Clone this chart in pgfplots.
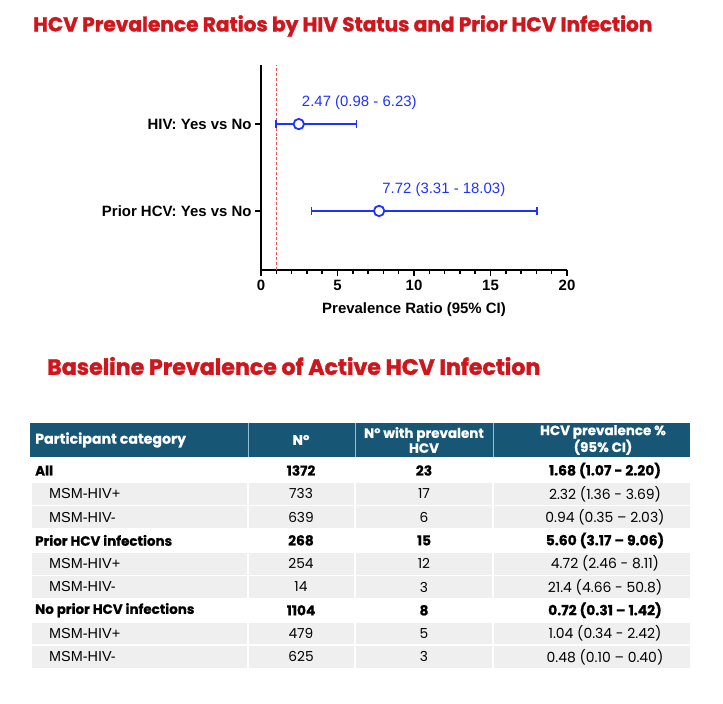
\documentclass[border=0pt]{standalone}
\usepackage{pgfplots}
\pgfplotsset{compat=1.18}
\usepackage{fontspec}
\setmainfont{Liberation Sans}
\newfontfamily\pop{Poppins}
\newfontfamily\popT{Poppins}[FakeBold=1.6]
\newfontfamily\popH{Poppins}[FakeBold=0.7]
\definecolor{titlered}{RGB}{208,22,28}
\definecolor{hdr}{RGB}{24,86,117}
\definecolor{hdrline}{RGB}{150,190,210}
\definecolor{rowgray}{RGB}{239,239,239}
\definecolor{pblue}{RGB}{32,50,255}
\definecolor{refred}{RGB}{240,80,80}
\pgfplotstableread{
x y em ep
2.47 2 1.49 3.76
7.72 1 4.41 10.31
}\prdata
\begin{document}
\begin{tikzpicture}
\useasboundingbox (0,0) rectangle (723bp,-704bp);
\node[anchor=west, inner sep=0, text=titlered, font=\popT\bfseries\fontsize{20.2}{23}\selectfont] at (33bp,-26bp) {HCV Prevalence Ratios by HIV Status and Prior HCV Infection};
\node[anchor=west, inner sep=0, text=titlered, font=\popT\bfseries\fontsize{22.2}{25}\selectfont] at (47bp,-366bp) {Baseline Prevalence of Active HCV Infection};
\begin{axis}[
  at={(261bp,-270bp)}, anchor=south west,
  width=306bp, height=205bp, scale only axis,
  xmin=0, xmax=20, ymin=0.32, ymax=2.68,
  axis x line=bottom, axis y line=left,
  axis line style={line width=2pt, -},
  xtick={0,5,...,20}, minor xtick={1,...,19},
  ytick={1,2}, yticklabels={Prior HCV: Yes vs No, HIV: Yes vs No},
  tick style={black, line width=1.5pt},
  major tick length=6bp, minor tick length=4bp,
  tick align=outside,
  tick label style={font=\bfseries\fontsize{15}{18}\selectfont},
  xticklabel style={yshift=-1bp},
  /pgf/number format/assume math mode=true,
  xlabel={Prevalence Ratio (95\% CI)},
  xlabel style={font=\bfseries\fontsize{15}{18}\selectfont, yshift=-5bp},
  clip=false,
]
\addplot[refred, line width=0.9pt, dash pattern=on 3pt off 2pt] coordinates {(1,0.32) (1,2.68)};
\addplot[pblue, line width=2pt, only marks, mark=*, mark size=5.2bp,
  mark options={fill=white, draw=pblue, line width=1.8pt},
  error bars/.cd, x dir=both, x explicit, error mark=|,
  error bar style={line width=2pt, pblue},
  error mark options={pblue, mark size=4bp, line width=1.5pt}]
  table[x=x, y=y, x error minus=em, x error plus=ep] {\prdata};
\node[anchor=west, inner sep=0, text=pblue, font=\fontsize{15}{18}\selectfont, xshift=3bp, yshift=21bp] at (axis cs:2.47,2) {2.47 (0.98 - 6.23)};
\node[anchor=west, inner sep=0, text=pblue, font=\fontsize{15}{18}\selectfont, xshift=3bp, yshift=21bp] at (axis cs:7.72,1) {7.72 (3.31 - 18.03)};
\end{axis}
\begin{scope}[x=1bp, y=-1bp]
\fill[hdr] (30,423) rectangle (690,457);
\foreach \xx in {248,355,493} \draw[hdrline, line width=1bp] (\xx,423) -- (\xx,457);
\node[anchor=west, inner sep=0, text=white, font=\popH\bfseries\fontsize{14.2}{16}\selectfont] at (35,440) {Participant category};
\node[text=white, font=\popH\bfseries\fontsize{14}{16}\selectfont] at (301,440) {N°};
\node[text=white, align=center, font=\popH\bfseries\fontsize{13.5}{15}\selectfont] at (424,440) {N° with prevalent\\HCV};
\node[text=white, align=center, font=\popH\bfseries\fontsize{13.5}{15}\selectfont] at (603,440) {HCV prevalence \%\\(95\% CI)};
\foreach \i/\b/\lab/\N/\n/\p in {
 0/1/{All}/1372/23/{1.68 (1.07 - 2.20)},
 1/0/{MSM-HIV+}/733/17/{2.32 (1.36 - 3.69)},
 2/0/{MSM-HIV-}/639/6/{0.94 (0.35 – 2.03)},
 3/1/{Prior HCV infections}/268/15/{5.60 (3.17 – 9.06)},
 4/0/{MSM-HIV+}/254/12/{4.72 (2.46 - 8.11)},
 5/0/{MSM-HIV-}/14/3/{21.4 (4.66 - 50.8)},
 6/1/{No prior HCV infections}/1104/8/{0.72 (0.31 – 1.42)},
 7/0/{MSM-HIV+}/479/5/{1.04 (0.34 - 2.42)},
 8/0/{MSM-HIV-}/625/3/{0.48 (0.10 – 0.40)}}{
  \pgfmathsetmacro\yc{470.5+23.3*\i}
  \ifnum\b=0
    \fill[rowgray] (32,\yc-10.8) rectangle (247,\yc+10.8);
    \fill[rowgray] (249,\yc-10.8) rectangle (354,\yc+10.8);
    \fill[rowgray] (356,\yc-10.8) rectangle (492,\yc+10.8);
    \fill[rowgray] (494,\yc-10.8) rectangle (690,\yc+10.8);
    \node[anchor=west, inner sep=0, font=\fontsize{14.5}{17}\selectfont] at (49,\yc) {\lab};
    \node[font=\pop\fontsize{13.8}{16}\selectfont] at (301,\yc) {\N};
    \node[font=\pop\fontsize{13.8}{16}\selectfont] at (424,\yc) {\n};
    \node[font=\pop\fontsize{14}{16}\selectfont] at (605,\yc) {\p};
  \else
    \node[anchor=west, inner sep=0, font=\popH\bfseries\fontsize{13.5}{16}\selectfont] at (35,\yc) {\lab};
    \node[font=\popH\bfseries\fontsize{13.8}{16}\selectfont] at (301,\yc) {\N};
    \node[font=\popH\bfseries\fontsize{13.8}{16}\selectfont] at (424,\yc) {\n};
    \node[font=\popH\bfseries\fontsize{14}{16}\selectfont] at (605,\yc) {\p};
  \fi
}
\end{scope}
\end{tikzpicture}
\end{document}
